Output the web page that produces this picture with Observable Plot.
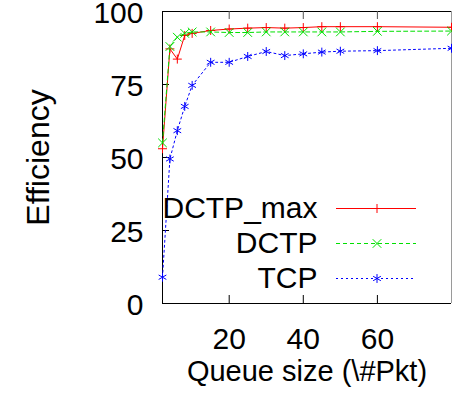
<!DOCTYPE html>
<html>
<head>
<meta charset="utf-8">
<script src="https://cdn.jsdelivr.net/npm/d3@7"></script>
<script src="https://cdn.jsdelivr.net/npm/@observablehq/plot@0.6"></script>
<style>
  html, body { margin: 0; padding: 0; background: #fff; }
  #chart { width: 452px; height: 408px; overflow: hidden; }
</style>
</head>
<body>
<div id="chart"></div>
<script>
// ---- data ----
const seriesNames = ["DCTP_max", "DCTP", "TCP"];
const queueSize  = [2, 4, 6, 8, 10, 15, 20, 25, 30, 35, 40, 45, 50, 60, 80];
const dctpMax    = [53, 87.2, 83.7, 91.8, 92.5, 93.5, 94, 94.3, 94.5, 94.3, 94.5, 94.8, 94.8, 94.8, 94.6];
const dctp       = [55, 88, 91.2, 92.5, 93, 93, 92.8, 92.8, 93, 93, 93, 93, 93, 93.2, 93.3];
const tcp        = [9, 49.5, 59.2, 67.5, 74.7, 82.6, 82.6, 84.6, 86.3, 84.9, 85.5, 86.1, 86.4, 86.6, 87.4];
const xTicks     = [20, 40, 60];
const yTicks     = [0, 25, 50, 75, 100];
const xLabel     = "Queue size (\\#Pkt)";
const yLabel     = "Efficiency";

// ---- styles / layout ----
const W = 452, H = 408, mL = 162, mR = 1, mT = 11, mB = 105;
const xDom = [2, 80], yDom = [0, 100];
const colors  = ["#ff0000", "#00e000", "#0000ff"];
const dashes  = [null, "4,3", "2,3"];
const symbols = ["plus", "times", "asterisk"];
const radii   = [3, 4, 4.2];
const font = "'Liberation Sans', Arial, Helvetica, sans-serif";

const xInv = px => xDom[0] + (px - mL) / (W - mL - mR) * (xDom[1] - xDom[0]);
const yPerPx = (yDom[1] - yDom[0]) / (H - mT - mB);
const xPerPx = (xDom[1] - xDom[0]) / (W - mL - mR);

const values = [dctpMax, dctp, tcp];
const series = seriesNames.map((name, i) =>
  queueSize.map((q, j) => ({series: name, q, eff: values[i][j]})));

const marks = [];

// frame
marks.push(Plot.ruleX([xDom[1]], {stroke: "#9a9a9a"}));
marks.push(Plot.ruleX([xDom[0]], {stroke: "#000"}));
marks.push(Plot.ruleY([yDom[0], yDom[1]], {stroke: "#000"}));
// inward ticks
const tkY = 8 * yPerPx, tkX = 7 * xPerPx;
marks.push(Plot.ruleX(xTicks, {y1: yDom[0], y2: yDom[0] + tkY, stroke: "#000"}));
marks.push(Plot.ruleX(xTicks, {y1: yDom[1], y2: yDom[1] - tkY, stroke: "#555"}));
marks.push(Plot.ruleY(yTicks, {x1: xDom[0], x2: xDom[0] + tkX, stroke: "#000"}));

// axes labels
marks.push(Plot.axisX(xTicks, {anchor: "bottom", tickSize: 0, tickPadding: 24, fontSize: 30, label: null, fill: "#000"}));
marks.push(Plot.axisY(yTicks, {anchor: "left", tickSize: 0, tickPadding: 19, fontSize: 30, label: null, fill: "#000", dy: 2}));
marks.push(Plot.text([xLabel], {frameAnchor: "bottom", dy: 68, fontSize: 29, lineAnchor: "middle", textAnchor: "middle", fill: "#000"}));
marks.push(Plot.text([yLabel], {frameAnchor: "left", dx: -124, dy: 0, rotate: -90, fontSize: 32, lineAnchor: "middle", textAnchor: "middle", fill: "#000"}));

// data lines & points
series.forEach((data, i) => {
  marks.push(Plot.line(data, {x: "q", y: "eff", stroke: colors[i], strokeWidth: 1, strokeDasharray: dashes[i]}));
  marks.push(Plot.dot(data, {x: "q", y: "eff", symbol: () => symbols[i], r: radii[i], stroke: colors[i], strokeWidth: 1, fill: "none"}));
});

// legend
const rowY = [208, 243, 278];
seriesNames.forEach((name, i) => {
  marks.push(Plot.text([name], {frameAnchor: "top-left", dx: 317 - mL, dy: rowY[i] - mT, textAnchor: "end", lineAnchor: "middle", fontSize: 30, fill: "#000"}));
  marks.push(Plot.ruleY([yDom[0]], {x1: xInv(336), x2: xInv(416), dy: rowY[i] - (H - mB), stroke: colors[i], strokeWidth: 1, strokeDasharray: dashes[i]}));
  marks.push(Plot.dot([name], {frameAnchor: "top-left", dx: 376.5 - mL, dy: rowY[i] - mT, symbol: () => symbols[i], r: radii[i], stroke: colors[i], strokeWidth: 1, fill: "none"}));
});

const chart = Plot.plot({
  width: W, height: H,
  marginLeft: mL, marginRight: mR, marginTop: mT, marginBottom: mB,
  x: {domain: xDom, axis: null},
  y: {domain: yDom, axis: null},
  style: {fontFamily: font, background: "#fff", overflow: "visible"},
  marks
});
document.getElementById("chart").appendChild(chart);
</script>
</body>
</html>
